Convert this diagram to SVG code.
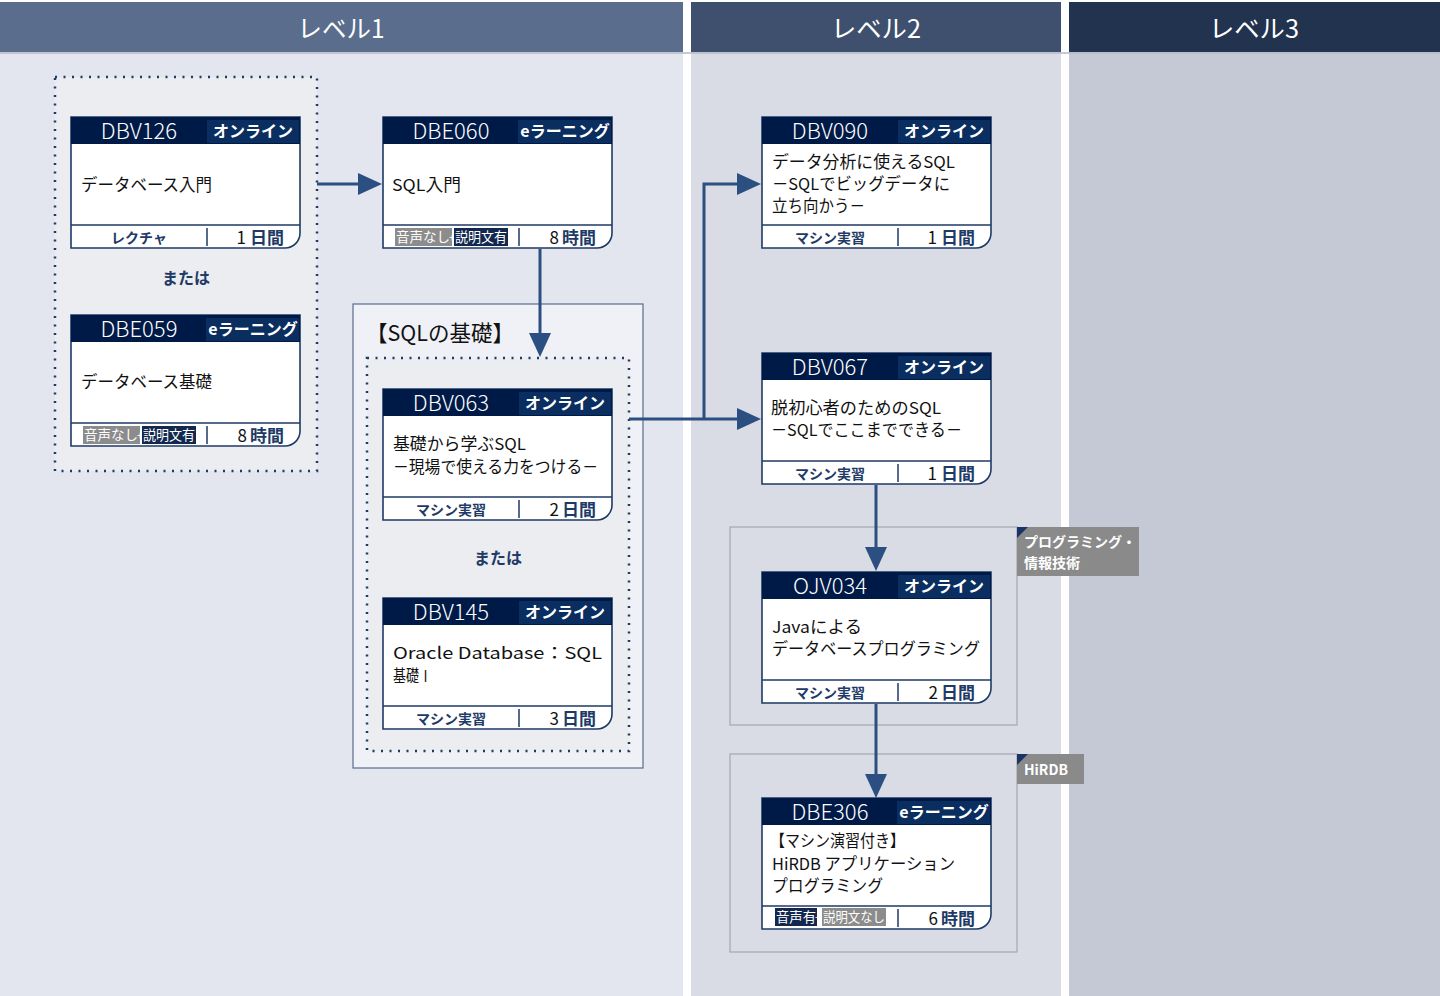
<svg xmlns="http://www.w3.org/2000/svg" width="1440" height="996" viewBox="0 0 1440 996">
<defs>
<style>
text{font-family:"Noto Sans CJK JP","Noto Sans",sans-serif;}
.lvl{fill:#fff;font-size:25px;text-anchor:middle;}
.card{fill:#fff;stroke:#1e3a66;stroke-width:1.6;}
.hd{fill:#001a48;}
.tg{fill:#0a2e60;}
.cid{fill:#fff;font-size:22px;font-weight:300;text-anchor:middle;}
.ctag{fill:#fff;font-size:16px;font-weight:bold;text-anchor:middle;}
.body{fill:#111;font-size:16.5px;}
.fl{stroke:#1e3a66;stroke-width:1.5;}
.ft{fill:#1e3a66;font-size:14px;font-weight:bold;text-anchor:middle;}
.dur{fill:#1e3a66;font-size:17px;font-weight:bold;text-anchor:end;}
.num{fill:#111;font-weight:normal;}
.bg{fill:#8c8c8c;}
.bn{fill:#13284f;}
.bt{fill:#fff;font-size:13.5px;}
.plus{fill:#fff;font-size:11px;}
.or{fill:#1e3a66;font-size:16px;font-weight:bold;text-anchor:middle;}
.dot{fill:#ecedf0;stroke:#1e3a66;stroke-width:2.5;stroke-dasharray:2 6.5;}
.gbox{fill:none;stroke:#a3a7b0;stroke-width:1.2;}
.gtag{fill:#8a8a8a;}
.gtri{fill:#1a3564;}
.gtt{fill:#fff;font-size:14px;font-weight:bold;}
.conn{fill:none;stroke:#2b4f80;stroke-width:3;}
</style>
<marker id="ah" markerUnits="userSpaceOnUse" markerWidth="24" markerHeight="22" refX="14" refY="11" orient="auto">
<path d="M0,0 L24,11 L0,22 Z" fill="#2b4f80"/>
</marker>
</defs>

<g id="background">
<rect x="0" y="0" width="1440" height="996" fill="#ffffff"/>
<rect x="0" y="3" width="683" height="993" fill="#e3e6ef"/>
<rect x="691" y="3" width="370" height="993" fill="#d9dce5"/>
<rect x="1069" y="3" width="371" height="993" fill="#c5c9d6"/>
<rect x="0" y="2" width="683" height="50" fill="#5a6d8c"/>
<rect x="691" y="2" width="370" height="50" fill="#3e506e"/>
<rect x="1069" y="2" width="371" height="50" fill="#21334f"/>
<rect x="0" y="52" width="1440" height="2" fill="#b4bccb" opacity="0.8"/>
<text class="lvl" x="341" y="38" textLength="87" lengthAdjust="spacingAndGlyphs">レベル1</text>
<text class="lvl" x="876" y="38" textLength="90" lengthAdjust="spacingAndGlyphs">レベル2</text>
<text class="lvl" x="1254" y="38" textLength="90" lengthAdjust="spacingAndGlyphs">レベル3</text>
</g>

<g id="group-level1">
<rect class="dot" x="55" y="77" width="262" height="394"/>
<text class="or" x="186" y="284">または</text>
</g>

<g id="group-sql-basics">
<rect x="353" y="304" width="290" height="464" fill="#eff1f7" stroke="#5a6d8c" stroke-width="1.2"/>
<text x="366" y="341" font-size="22" fill="#111" textLength="148" lengthAdjust="spacingAndGlyphs">【SQLの基礎】</text>
<rect class="dot" x="367" y="358" width="262" height="393"/>
<text class="or" x="498" y="564">または</text>
</g>

<g id="group-programming">
<rect class="gbox" x="730" y="527" width="287" height="198"/>
<rect class="gtag" x="1017" y="527" width="122" height="49"/>
<path class="gtri" d="M1017,527 H1028 L1017,538 Z"/>
<text class="gtt" x="1024" y="547">プログラミング・</text>
<text class="gtt" x="1024" y="568">情報技術</text>
</g>

<g id="group-hirdb">
<rect class="gbox" x="730" y="754" width="287" height="198"/>
<rect class="gtag" x="1017" y="754" width="67" height="30"/>
<path class="gtri" d="M1017,754 H1028 L1017,765 Z"/>
<text class="gtt" x="1024" y="775">HiRDB</text>
</g>

<g id="connectors">
<line class="conn" x1="317" y1="184" x2="372" y2="184" marker-end="url(#ah)"/>
<line class="conn" x1="540" y1="249" x2="540" y2="347" marker-end="url(#ah)"/>
<line class="conn" x1="629" y1="419" x2="751" y2="419" marker-end="url(#ah)"/>
<path class="conn" d="M704,419 V184 H751" marker-end="url(#ah)"/>
<line class="conn" x1="876" y1="485" x2="876" y2="561" marker-end="url(#ah)"/>
<line class="conn" x1="876" y1="704" x2="876" y2="788" marker-end="url(#ah)"/>
</g>

<g id="DBV126">
<path class="card" d="M71,117 H300 V233 A15,15 0 0 1 285,248 H71 Z"/>
<rect class="hd" x="71" y="117" width="229" height="27"/>
<rect class="tg" x="207" y="120" width="92" height="23"/>
<text class="cid" x="139" y="139">DBV126</text>
<text class="ctag" x="253" y="137">オンライン</text>
<text class="body" x="81" y="191" textLength="131" lengthAdjust="spacingAndGlyphs">データベース入門</text>
<line class="fl" x1="71" y1="225" x2="300" y2="225"/>
<line class="fl" x1="207" y1="228" x2="207" y2="246"/>
<text class="ft" x="139" y="243">レクチャ</text>
<text class="dur" x="284" y="244"><tspan class="num">1</tspan><tspan dx="4">日間</tspan></text>
</g>

<g id="DBE059">
<path class="card" d="M71,315 H300 V431 A15,15 0 0 1 285,446 H71 Z"/>
<rect class="hd" x="71" y="315" width="229" height="27"/>
<rect class="tg" x="206" y="318" width="93" height="23"/>
<text class="cid" x="139" y="337">DBE059</text>
<text class="ctag" x="253" y="335">eラーニング</text>
<text class="body" x="81" y="388" textLength="131" lengthAdjust="spacingAndGlyphs">データベース基礎</text>
<line class="fl" x1="71" y1="423" x2="300" y2="423"/>
<line class="fl" x1="207" y1="426" x2="207" y2="444"/>
<rect class="bg" x="83" y="426" width="57" height="18"/>
<text class="bt" x="84" y="440" textLength="54" lengthAdjust="spacingAndGlyphs">音声なし</text>
<text class="plus" x="137" y="440">+</text>
<rect class="bn" x="142" y="426" width="54" height="18"/>
<text class="bt" x="143" y="440" textLength="52" lengthAdjust="spacingAndGlyphs">説明文有</text>
<text class="dur" x="284" y="442"><tspan class="num">8</tspan><tspan dx="3">時間</tspan></text>
</g>

<g id="DBE060">
<path class="card" d="M383,117 H612 V233 A15,15 0 0 1 597,248 H383 Z"/>
<rect class="hd" x="383" y="117" width="229" height="27"/>
<rect class="tg" x="518" y="120" width="93" height="23"/>
<text class="cid" x="451" y="139">DBE060</text>
<text class="ctag" x="565" y="137">eラーニング</text>
<text class="body" x="392" y="191" textLength="69" lengthAdjust="spacingAndGlyphs">SQL入門</text>
<line class="fl" x1="383" y1="225" x2="612" y2="225"/>
<line class="fl" x1="519" y1="228" x2="519" y2="246"/>
<rect class="bg" x="395" y="228" width="57" height="18"/>
<text class="bt" x="396" y="242" textLength="54" lengthAdjust="spacingAndGlyphs">音声なし</text>
<text class="plus" x="449" y="242">+</text>
<rect class="bn" x="454" y="228" width="54" height="18"/>
<text class="bt" x="455" y="242" textLength="52" lengthAdjust="spacingAndGlyphs">説明文有</text>
<text class="dur" x="596" y="244"><tspan class="num">8</tspan><tspan dx="3">時間</tspan></text>
</g>

<g id="DBV063">
<path class="card" d="M383,389 H612 V505 A15,15 0 0 1 597,520 H383 Z"/>
<rect class="hd" x="383" y="389" width="229" height="27"/>
<rect class="tg" x="519" y="392" width="92" height="23"/>
<text class="cid" x="451" y="411">DBV063</text>
<text class="ctag" x="565" y="409">オンライン</text>
<text class="body" x="393" y="450" textLength="133" lengthAdjust="spacingAndGlyphs">基礎から学ぶSQL</text>
<text class="body" x="393" y="473" textLength="205" lengthAdjust="spacingAndGlyphs">－現場で使える力をつける－</text>
<line class="fl" x1="383" y1="497" x2="612" y2="497"/>
<line class="fl" x1="519" y1="500" x2="519" y2="518"/>
<text class="ft" x="451" y="515">マシン実習</text>
<text class="dur" x="596" y="516"><tspan class="num">2</tspan><tspan dx="3">日間</tspan></text>
</g>

<g id="DBV145">
<path class="card" d="M383,598 H612 V714 A15,15 0 0 1 597,729 H383 Z"/>
<rect class="hd" x="383" y="598" width="229" height="27"/>
<rect class="tg" x="519" y="601" width="92" height="23"/>
<text class="cid" x="451" y="620">DBV145</text>
<text class="ctag" x="565" y="618">オンライン</text>
<text class="body" x="393" y="659" textLength="209" lengthAdjust="spacingAndGlyphs">Oracle Database：SQL</text>
<text class="body" x="393" y="682" textLength="39" lengthAdjust="spacingAndGlyphs">基礎Ⅰ</text>
<line class="fl" x1="383" y1="706" x2="612" y2="706"/>
<line class="fl" x1="519" y1="709" x2="519" y2="727"/>
<text class="ft" x="451" y="724">マシン実習</text>
<text class="dur" x="596" y="725"><tspan class="num">3</tspan><tspan dx="3">日間</tspan></text>
</g>

<g id="DBV090">
<path class="card" d="M762,117 H991 V233 A15,15 0 0 1 976,248 H762 Z"/>
<rect class="hd" x="762" y="117" width="229" height="27"/>
<rect class="tg" x="898" y="120" width="92" height="23"/>
<text class="cid" x="830" y="139">DBV090</text>
<text class="ctag" x="944" y="137">オンライン</text>
<text class="body" x="772" y="168" textLength="183" lengthAdjust="spacingAndGlyphs">データ分析に使えるSQL</text>
<text class="body" x="772" y="190" textLength="178" lengthAdjust="spacingAndGlyphs">－SQLでビッグデータに</text>
<text class="body" x="772" y="212" textLength="93" lengthAdjust="spacingAndGlyphs">立ち向かう－</text>
<line class="fl" x1="762" y1="225" x2="991" y2="225"/>
<line class="fl" x1="898" y1="228" x2="898" y2="246"/>
<text class="ft" x="830" y="243">マシン実習</text>
<text class="dur" x="975" y="244"><tspan class="num">1</tspan><tspan dx="4">日間</tspan></text>
</g>

<g id="DBV067">
<path class="card" d="M762,353 H991 V469 A15,15 0 0 1 976,484 H762 Z"/>
<rect class="hd" x="762" y="353" width="229" height="27"/>
<rect class="tg" x="898" y="356" width="92" height="23"/>
<text class="cid" x="830" y="375">DBV067</text>
<text class="ctag" x="944" y="373">オンライン</text>
<text class="body" x="771" y="414" textLength="170" lengthAdjust="spacingAndGlyphs">脱初心者のためのSQL</text>
<text class="body" x="771" y="436" textLength="191" lengthAdjust="spacingAndGlyphs">－SQLでここまでできる－</text>
<line class="fl" x1="762" y1="461" x2="991" y2="461"/>
<line class="fl" x1="898" y1="464" x2="898" y2="482"/>
<text class="ft" x="830" y="479">マシン実習</text>
<text class="dur" x="975" y="480"><tspan class="num">1</tspan><tspan dx="4">日間</tspan></text>
</g>

<g id="OJV034">
<path class="card" d="M762,572 H991 V688 A15,15 0 0 1 976,703 H762 Z"/>
<rect class="hd" x="762" y="572" width="229" height="27"/>
<rect class="tg" x="898" y="575" width="92" height="23"/>
<text class="cid" x="830" y="594">OJV034</text>
<text class="ctag" x="944" y="592">オンライン</text>
<text class="body" x="772" y="633" textLength="90" lengthAdjust="spacingAndGlyphs">Javaによる</text>
<text class="body" x="772" y="655" textLength="208" lengthAdjust="spacingAndGlyphs">データベースプログラミング</text>
<line class="fl" x1="762" y1="680" x2="991" y2="680"/>
<line class="fl" x1="898" y1="683" x2="898" y2="701"/>
<text class="ft" x="830" y="698">マシン実習</text>
<text class="dur" x="975" y="699"><tspan class="num">2</tspan><tspan dx="3">日間</tspan></text>
</g>

<g id="DBE306">
<path class="card" d="M762,798 H991 V914 A15,15 0 0 1 976,929 H762 Z"/>
<rect class="hd" x="762" y="798" width="229" height="27"/>
<rect class="tg" x="897" y="801" width="93" height="23"/>
<text class="cid" x="830" y="820">DBE306</text>
<text class="ctag" x="944" y="818">eラーニング</text>
<text class="body" x="770" y="847" textLength="135" lengthAdjust="spacingAndGlyphs">【マシン演習付き】</text>
<text class="body" x="772" y="870" textLength="183" lengthAdjust="spacingAndGlyphs">HiRDB アプリケーション</text>
<text class="body" x="772" y="892" textLength="111" lengthAdjust="spacingAndGlyphs">プログラミング</text>
<line class="fl" x1="762" y1="906" x2="991" y2="906"/>
<line class="fl" x1="898" y1="909" x2="898" y2="927"/>
<rect class="bn" x="775" y="908" width="42" height="18"/>
<text class="bt" x="776" y="922" textLength="40" lengthAdjust="spacingAndGlyphs">音声有</text>
<text class="plus" x="815" y="922">+</text>
<rect class="bg" x="822" y="908" width="64" height="18"/>
<text class="bt" x="823" y="922" textLength="62" lengthAdjust="spacingAndGlyphs">説明文なし</text>
<text class="dur" x="975" y="925"><tspan class="num">6</tspan><tspan dx="3">時間</tspan></text>
</g>
</svg>
